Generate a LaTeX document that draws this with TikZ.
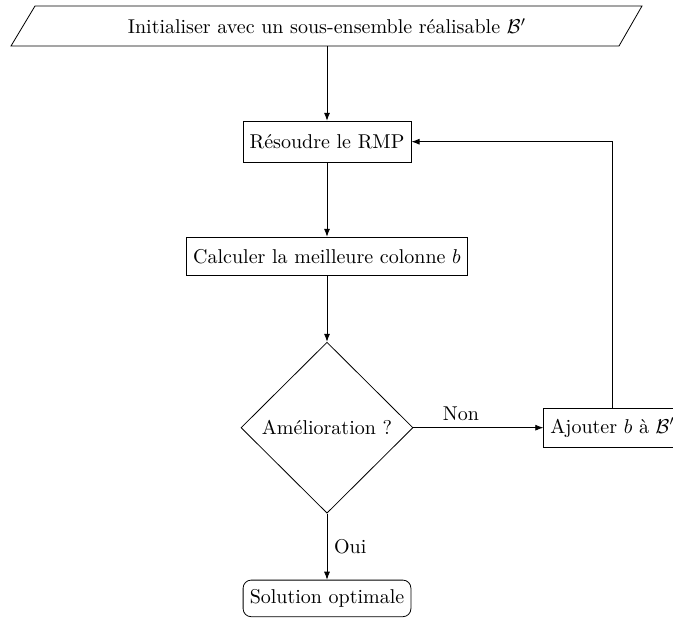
\documentclass[tikz,border=0pt]{standalone}
\usetikzlibrary{shapes.geometric,arrows.meta}
\begin{document}
\begin{tikzpicture}[x=0.5pt,y=-0.5pt,
  box/.style={draw, rectangle, inner xsep=3.33pt, inner ysep=0pt},
  decision/.style={draw, diamond, minimum width=86pt, minimum height=85.5pt, inner sep=0pt},
  terminal/.style={draw, rectangle, rounded corners=4pt, inner xsep=3.33pt, inner ysep=0pt, minimum height=18.3pt},
  arr/.style={-{Latex[length=4pt,width=3pt]}}]
\useasboundingbox (0,0) rectangle (673,619);
\clip (0,0) rectangle (673,619);
% input parallelogram
\node[minimum height=20pt, inner sep=0pt] (init) at (327,26) {Initialiser avec un sous-ensemble réalisable $\mathcal{B}'$};
\coordinate (p1) at (35,6);
\coordinate (p2) at (642,6);
\coordinate (p3) at (619,46);
\coordinate (p4) at (11,46);
\draw (p1) -- (p2) -- (p3) -- (p4) -- cycle;
% process boxes
\node[box, minimum height=20.5pt] (res) at (327,141.7) {Résoudre le RMP};
\node[box, minimum height=19pt] (calc) at (327,256.2) {Calculer la meilleure colonne $b$};
\node[decision] (dec) at (327,427.7) {Amélioration ?};
\node[box, minimum height=19.5pt] (aj) at (612.7,427.7) {Ajouter $b$ à $\mathcal{B}'$};
\node[terminal] (sol) at (327,598.4) {Solution optimale};
% connectors
\draw[arr] (init.south) -- (res.north);
\draw[arr] (res.south) -- (calc.north);
\draw[arr] (calc.south) -- (dec.north);
\draw[arr] (dec.east) -- node[pos=0.366, above] {Non} (aj.west |- dec.east);
\draw[arr] (aj.north) |- (res.east);
\draw[arr] (dec.south) -- node[right] {Oui} (sol.north);
\end{tikzpicture}
\end{document}
